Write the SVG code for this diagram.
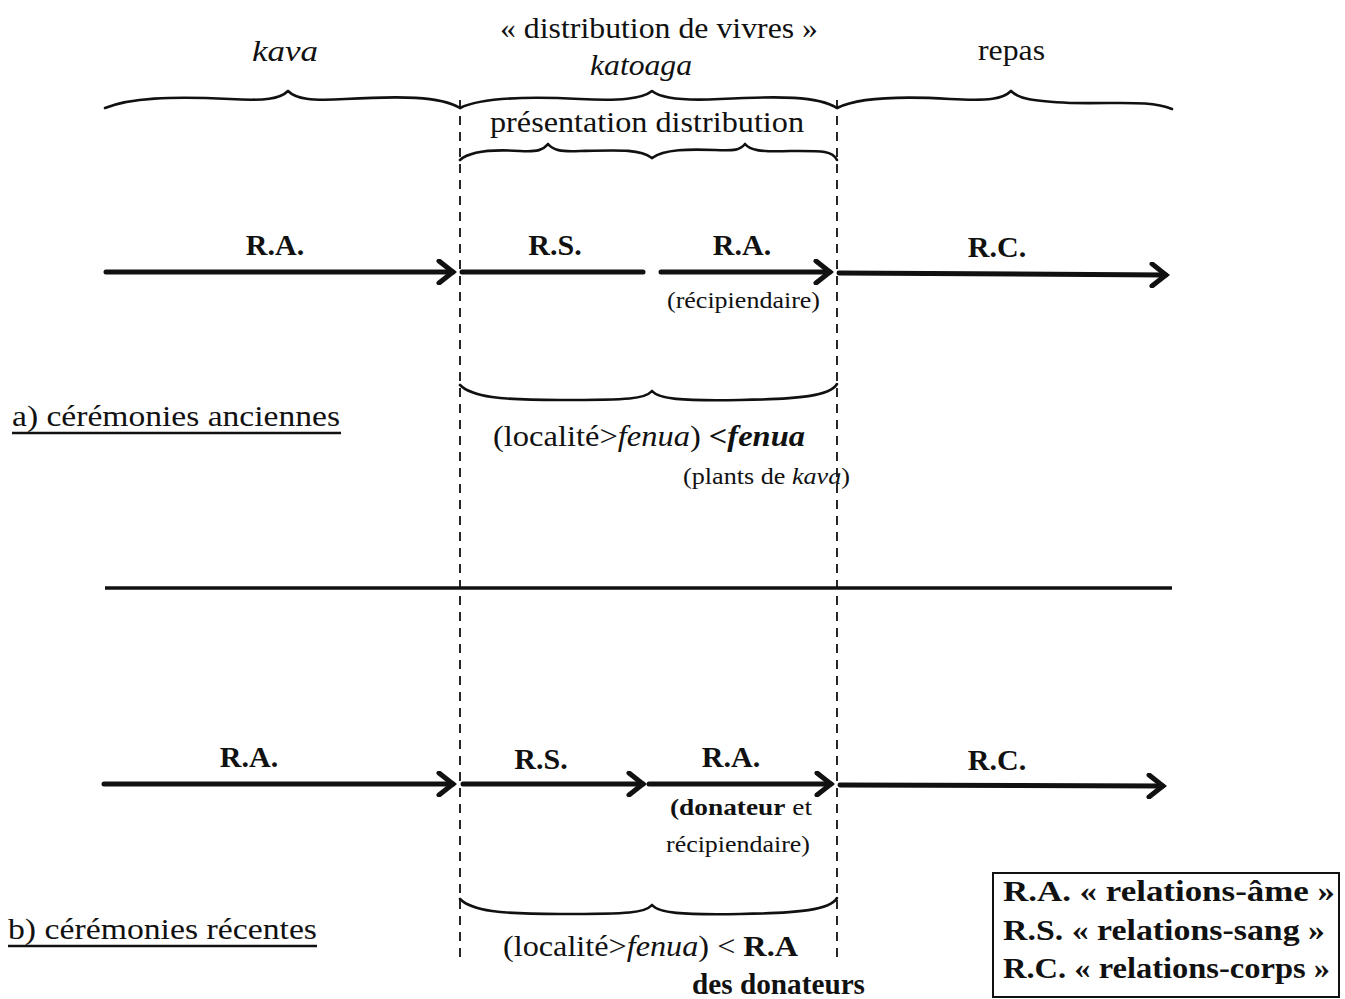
<svg xmlns="http://www.w3.org/2000/svg" width="1345" height="999" viewBox="0 0 1345 999">
<defs>
<style>
text{font-family:"Liberation Serif","Times New Roman",serif;fill:#111}
.t{font-size:30px}
.i{font-style:italic}
.b{font-weight:bold}
.lab{font-size:30px;font-weight:bold;text-anchor:middle}
.sm{font-size:24px}
.brace{fill:none;stroke:#111;stroke-width:2.6;stroke-linecap:round;stroke-linejoin:round}
.dash{fill:none;stroke:#111;stroke-width:1.8;stroke-dasharray:9 7}
.arr{fill:none;stroke:#111;stroke-width:5;stroke-linecap:round}
.ul{stroke:#111;stroke-width:2.5}
</style>
<marker id="ah" viewBox="-18 -13 22 26" refX="0" refY="0" markerWidth="22" markerHeight="26" markerUnits="userSpaceOnUse" orient="auto">
<path d="M-14,-11 L0,0 L-14,11" fill="none" stroke="#111" stroke-width="5" stroke-linecap="round" stroke-linejoin="miter"/>
</marker>
</defs>
<rect width="1345" height="999" fill="#fff"/>

<g id="headers">
<text class="t" x="500" y="38" textLength="318" lengthAdjust="spacingAndGlyphs">« distribution de vivres »</text>
<text class="t i" x="252" y="61" textLength="66" lengthAdjust="spacingAndGlyphs">kava</text>
<text class="t i" x="590" y="75" textLength="102" lengthAdjust="spacingAndGlyphs">katoaga</text>
<text class="t" x="978" y="60" textLength="67" lengthAdjust="spacingAndGlyphs">repas</text>
<text class="t" x="490" y="132" textLength="314" lengthAdjust="spacingAndGlyphs">présentation distribution</text>
</g>

<g id="braces">
<path class="brace" d="M105,108 C130,98 170,96 230,99 C265,101 280,99 288,91 C296,99 311,101 345,99 C400,96 440,96 460,108"/>
<path class="brace" d="M460,108 C480,98 520,96 580,99 C620,101 642,99 652,91 C662,99 684,101 720,99 C780,96 818,96 837,108"/>
<path class="brace" d="M837,108 C857,98 900,96 950,99 C990,101 1003,99 1011,91 C1019,99 1032,101 1070,103 C1120,104 1150,100 1172,109"/>
<path class="brace" d="M460,160 C470,151 490,149 520,151 C538,152 543,150 548,144 C553,150 560,152 580,151 C620,150 640,149 652,158"/>
<path class="brace" d="M652,158 C664,149 690,149 715,150 C735,151 740,150 745,144 C750,150 758,152 790,151 C820,151 832,150 837,160"/>
<path class="brace" d="M460,385 C472,397 500,400 560,400 C630,400 645,399 652,391 C659,399 680,401 740,400 C800,399 830,396 837,384"/>
<path class="brace" d="M460,899 C472,911 500,914 560,914 C630,914 645,913 652,905 C659,913 680,915 740,914 C800,913 830,910 837,898"/>
</g>

<g id="dividers">
<line class="dash" x1="460" y1="100" x2="460" y2="962"/>
<line class="dash" x1="837" y1="100" x2="837" y2="962"/>
<line x1="105" y1="588" x2="1172" y2="588" stroke="#111" stroke-width="3.5"/>
</g>

<g id="connectors">
<line class="arr" x1="106" y1="272" x2="453" y2="272" marker-end="url(#ah)"/>
<line class="arr" x1="462" y1="272" x2="643" y2="272"/>
<line class="arr" x1="661" y1="272" x2="830" y2="272" marker-end="url(#ah)"/>
<line class="arr" x1="839" y1="273" x2="1166" y2="275" marker-end="url(#ah)"/>
<line class="arr" x1="104" y1="784" x2="453" y2="784" marker-end="url(#ah)"/>
<line class="arr" x1="463" y1="784" x2="643" y2="784" marker-end="url(#ah)"/>
<line class="arr" x1="649" y1="784" x2="831" y2="784" marker-end="url(#ah)"/>
<line class="arr" x1="840" y1="785" x2="1163" y2="786" marker-end="url(#ah)"/>
</g>

<g id="row-a">
<text class="lab" x="275" y="255">R.A.</text>
<text class="lab" x="555" y="255">R.S.</text>
<text class="lab" x="742" y="255">R.A.</text>
<text class="lab" x="997" y="257">R.C.</text>
<text class="sm" x="667" y="308" textLength="153" lengthAdjust="spacingAndGlyphs">(récipiendaire)</text>
<text class="t" x="12" y="426" textLength="328" lengthAdjust="spacingAndGlyphs">a) cérémonies anciennes</text>
<line class="ul" x1="12" y1="433" x2="341" y2="433"/>
<text class="t" x="493" y="446" textLength="312" lengthAdjust="spacingAndGlyphs">(localité&gt;<tspan class="i">fenua</tspan>) <tspan class="b i">&lt;fenua</tspan></text>
<text class="sm" x="683" y="484" textLength="167" lengthAdjust="spacingAndGlyphs">(plants de <tspan class="i">kava</tspan>)</text>
</g>

<g id="row-b">
<text class="lab" x="249" y="767">R.A.</text>
<text class="lab" x="541" y="769">R.S.</text>
<text class="lab" x="731" y="767">R.A.</text>
<text class="lab" x="997" y="770">R.C.</text>
<text class="sm" x="670" y="815" textLength="142" lengthAdjust="spacingAndGlyphs"><tspan class="b">(donateur</tspan> et</text>
<text class="sm" x="666" y="852" textLength="144" lengthAdjust="spacingAndGlyphs">récipiendaire)</text>
<text class="t" x="8" y="939" textLength="309" lengthAdjust="spacingAndGlyphs">b) cérémonies récentes</text>
<line class="ul" x1="8" y1="946" x2="317" y2="946"/>
<text class="t" x="503" y="956" textLength="295" lengthAdjust="spacingAndGlyphs">(localité&gt;<tspan class="i">fenua</tspan>) &lt; <tspan class="b">R.A</tspan></text>
<text class="t b" x="692" y="994" textLength="173" lengthAdjust="spacingAndGlyphs">des donateurs</text>
</g>

<g id="legend">
<rect x="993" y="873" width="346" height="124" fill="none" stroke="#111" stroke-width="2"/>
<text class="b" font-size="29" x="1003" y="901" textLength="332" lengthAdjust="spacingAndGlyphs">R.A. « relations-âme »</text>
<text class="b" font-size="29" x="1003" y="940" textLength="322" lengthAdjust="spacingAndGlyphs">R.S. « relations-sang »</text>
<text class="b" font-size="29" x="1003" y="978" textLength="327" lengthAdjust="spacingAndGlyphs">R.C. « relations-corps »</text>
</g>
</svg>
